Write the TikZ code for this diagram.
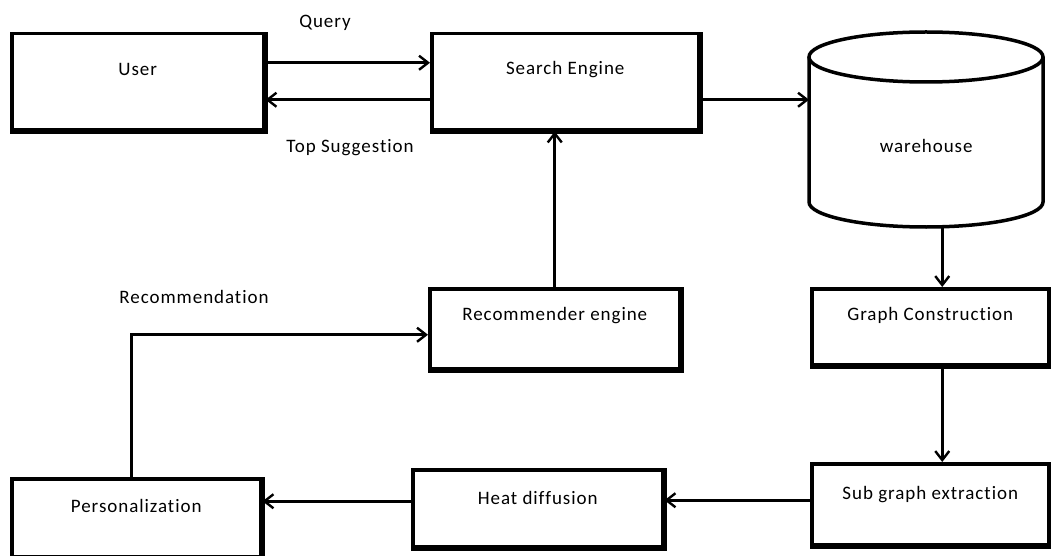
\documentclass[tikz,border=0pt]{standalone}
\usepackage{fontspec}
\setmainfont{Carlito}[Ligatures=NoCommon, LetterSpace=5]
\usetikzlibrary{arrows.meta}

\tikzset{
  blk/.style 2 args={draw, line width=3.5pt, inner sep=0pt, anchor=north west,
    text height=#1, text depth=#2},
  lbl/.style={inner sep=0pt},
  flow/.style={line width=2.6pt, -{Straight Barb[length=9pt,width=14pt,line width=2.4pt]}}
}

\begin{document}
\begin{tikzpicture}[x=1pt, y=-1pt, font=\fontsize{19}{22}\selectfont]
\useasboundingbox (0,0) rectangle (1051,556);

% Blocks
\node[blk={42pt}{54pt}, minimum width=252pt] (user) at (10,32) {User};
\node[blk={41pt}{55pt}, minimum width=267pt] (search) at (430,32) {Search Engine};
\node[blk={32pt}{48pt}, minimum width=250pt] (rec) at (428,287) {Recommender engine};
\node[blk={32pt}{44pt}, minimum width=237pt] (graph) at (810,287) {Graph Construction};
\node[blk={36pt}{45pt}, minimum width=237pt] (sub) at (810,462) {Sub graph extraction};
\node[blk={35pt}{42pt}, minimum width=250pt] (heat) at (411,468) {Heat diffusion};
\node[blk={34pt}{44pt}, minimum width=249pt] (pers) at (10,477) {Personalization};

% heavier bottom and right edges
\foreach \n in {user,search,rec,graph,sub,heat,pers}
  \draw[line width=5.5pt] (\n.south west) -| (\n.north east);

% Warehouse drum
\node[inner sep=0pt, anchor=north west, minimum width=234pt,
  text height=120pt, text depth=75pt] (wh) at (809,32) {warehouse};
\draw[line width=3.5pt] (809,57) -- (809,202) arc (180:0:117 and 25) -- (1043,57);
\draw[line width=3.5pt] (926,57) ellipse (117 and 25);

% Labels
\node[lbl] (query) at (325,23) {Query};
\node[lbl] (topsug) at (350,148) {Top Suggestion};
\node[lbl] (recom) at (194,297) {Recommendation};

% Connectors
\draw[flow] ([yshift=19pt]user.east) -- ([yshift=19pt]search.west);
\draw[flow] ([yshift=-18pt]search.west) -- ([yshift=-18pt]user.east);
\draw[flow] ([yshift=-18pt]search.east) -- ([yshift=-18pt]search.east -| wh.west);
\draw[flow] ([xshift=12pt]graph.north |- wh.south) -- ([xshift=12pt]graph.north);
\draw[flow] ([xshift=12pt]graph.south) -- ([xshift=12pt]graph.south |- sub.north);
\draw[flow] ([yshift=4pt]sub.west) -- ([yshift=4pt]sub.west -| heat.east);
\draw[flow] ([yshift=7pt]heat.west) -- ([yshift=7pt]heat.west -| pers.east);
\draw[flow] ([xshift=-5pt]pers.north) |- ([yshift=-6pt]rec.west);
\draw[flow] (rec.north) -- (rec.north |- search.south);
\end{tikzpicture}
\end{document}
